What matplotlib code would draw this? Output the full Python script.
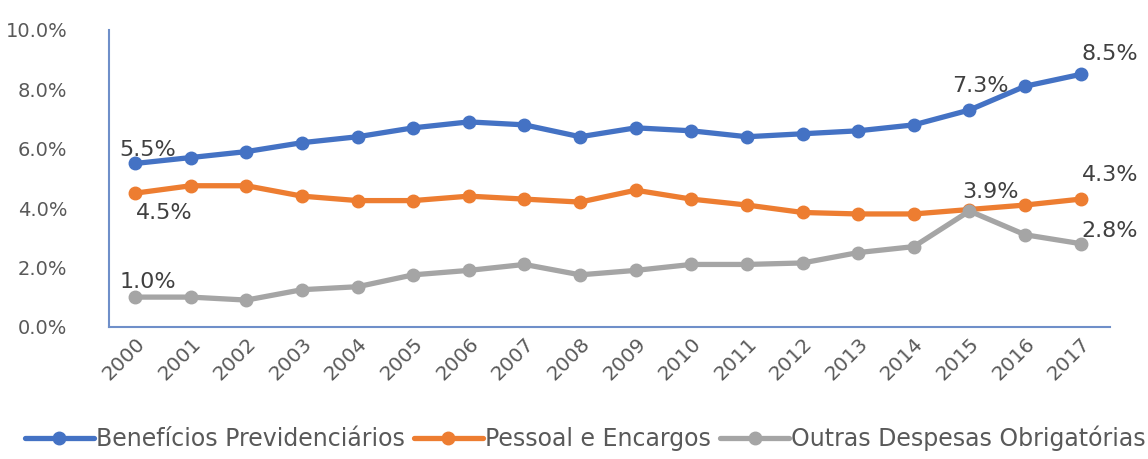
import matplotlib.pyplot as plt
from matplotlib.ticker import FuncFormatter

plt.rcParams['font.family'] = ['DejaVu Sans']

# anos e séries (% do PIB)
anos = ['2000', '2001', '2002', '2003', '2004', '2005', '2006', '2007', '2008',
        '2009', '2010', '2011', '2012', '2013', '2014', '2015', '2016', '2017']
beneficios = [5.5, 5.7, 5.9, 6.2, 6.4, 6.7, 6.9, 6.8, 6.4,
              6.7, 6.6, 6.4, 6.5, 6.6, 6.8, 7.3, 8.1, 8.5]
pessoal = [4.5, 4.75, 4.75, 4.4, 4.25, 4.25, 4.4, 4.3, 4.2,
           4.6, 4.3, 4.1, 3.85, 3.8, 3.8, 3.95, 4.1, 4.3]
outras = [1.0, 1.0, 0.9, 1.25, 1.35, 1.75, 1.9, 2.1, 1.75,
          1.9, 2.1, 2.1, 2.15, 2.5, 2.7, 3.9, 3.1, 2.8]

nomes = ['Benefícios Previdenciários', 'Pessoal e Encargos', 'Outras Despesas Obrigatórias']
cores = ['#4472C4', '#ED7D31', '#A5A5A5']
cinza_txt = '#595959'

fig = plt.figure(figsize=(11.48, 4.59), dpi=100)
ax = fig.add_axes([0.095, 0.288, 0.872, 0.647])

x = list(range(len(anos)))
for serie, nome, cor in zip([beneficios, pessoal, outras], nomes, cores):
    ax.plot(x, serie, color=cor, linewidth=3.8, marker='o', markersize=9,
            label=nome, solid_capstyle='round')

# rótulos de valor: (série, índice, deslocamento em pontos)
rotulos = [
    (beneficios, 0, (9, 10)),
    (pessoal, 0, (21, -14)),
    (outras, 0, (9, 11)),
    (beneficios, 15, (8, 17)),
    (beneficios, 17, (21, 15)),
    (pessoal, 17, (21, 17)),
    (outras, 15, (15, 14)),
    (outras, 17, (21, 9)),
]
for serie, i, desl in rotulos:
    ax.annotate('{:.1f}%'.format(serie[i]), (x[i], serie[i]), textcoords='offset points',
                xytext=desl, ha='center', va='center', fontsize=16, color='#404040')

ax.set_xlim(-0.47, 17.53)
ax.set_ylim(0, 10)
ax.set_yticks([0, 2, 4, 6, 8, 10])
ax.yaxis.set_major_formatter(FuncFormatter(lambda v, p: '{:.1f}%'.format(v)))
ax.set_xticks(x)
ax.set_xticklabels(anos, rotation=45, ha='right', rotation_mode='anchor')
ax.tick_params(axis='both', length=0, colors=cinza_txt)
ax.tick_params(axis='y', pad=30, labelsize=14)
ax.tick_params(axis='x', pad=5, labelsize=14.5)

for lado in ['top', 'right']:
    ax.spines[lado].set_visible(False)
for lado in ['left', 'bottom']:
    ax.spines[lado].set_color('#6F8FC9')
    ax.spines[lado].set_linewidth(1.5)

fig.legend(loc='center', bbox_to_anchor=(0.51, 0.045), ncol=3, frameon=False,
           fontsize=17, handlelength=2.9, handletextpad=0.1, columnspacing=0.4,
           labelcolor=cinza_txt)

fig.savefig('out.png', dpi=100)
